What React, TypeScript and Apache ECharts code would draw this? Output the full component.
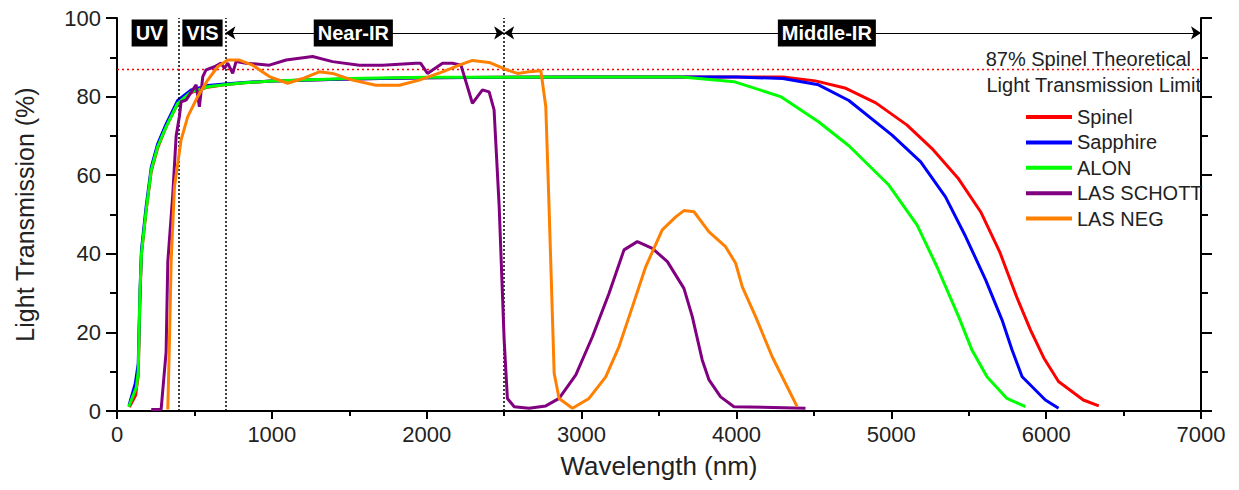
import React, { useEffect, useRef } from "react";
import * as echarts from "echarts";

const seriesNames = ["Spinel", "Sapphire", "ALON", "LAS SCHOTT", "LAS NEG"];
const seriesColors = ["#ff0000", "#0000ff", "#00ff00", "#800080", "#ff8000"];

const spinel = [
  [80, 1], [120, 4], [137, 9], [148, 28], [158, 40], [188, 51], [221, 61], [263, 67], [317, 72.3],
  [392, 78.2], [479, 81], [586, 82.4], [694, 83], [823, 83.5], [1000, 84], [1500, 84.5], [2000, 84.8],
  [3000, 85], [4000, 85], [4300, 85], [4510, 84], [4700, 82.2], [4900, 78.4], [5100, 72.8], [5270, 66.5],
  [5430, 59.3], [5580, 50.5], [5700, 40.5], [5810, 29], [5900, 20.5], [5985, 13.5], [6080, 7.5],
  [6240, 2.8], [6340, 1.3],
];
const sapphire = [
  [78, 1.5], [118, 7], [137, 12], [148, 30], [158, 41], [188, 52], [221, 62], [263, 68], [317, 73],
  [392, 79], [479, 81.7], [586, 82.8], [694, 83.2], [823, 83.6], [1000, 84], [1500, 84.5], [2000, 84.8],
  [3000, 85], [4000, 85], [4300, 84.6], [4530, 83], [4726, 79], [5005, 70.2], [5190, 63.4], [5350, 54.5],
  [5480, 44.4], [5610, 33.3], [5715, 23.2], [5780, 15.5], [5845, 8.7], [5995, 2.8], [6080, 0.7],
];
const alon = [
  [75, 1], [125, 6], [137, 10], [148, 30], [158, 40], [188, 51], [221, 61.3], [263, 67.3], [317, 72.3],
  [392, 78.3], [479, 81.2], [586, 82.5], [694, 83], [823, 83.5], [1000, 84], [1500, 84.6], [2000, 84.9],
  [3000, 85], [3650, 85], [3984, 83.8], [4285, 80], [4530, 73.6], [4726, 67.5], [4984, 57.5], [5167, 47.3],
  [5295, 36.7], [5435, 24], [5521, 15.5], [5618, 8.7], [5747, 3.2], [5866, 1.1],
];
const lasSchott = [
  [221, 0.4], [285, 0.4], [317, 15], [328, 38], [360, 55], [382, 70], [403, 75], [414, 78.7], [446, 79.1],
  [489, 81.7], [511, 83], [532, 77.4], [554, 85.1], [575, 86.8], [629, 87.6], [672, 88.5], [694, 87.2],
  [715, 88.5], [747, 85.9], [769, 88.9], [834, 88.5], [984, 88], [1092, 89.3], [1263, 90.2], [1392, 88.9],
  [1565, 88], [1715, 88], [1930, 88.5], [1960, 88.5], [2005, 85.9], [2102, 88.5], [2166, 88.5], [2221, 88],
  [2295, 78.3], [2360, 81.7], [2403, 81.2], [2435, 76.6], [2468, 52], [2500, 18.1], [2521, 3.2], [2565, 1.1],
  [2661, 0.7], [2769, 1.3], [2855, 3.2], [2963, 9.2], [3070, 18.9], [3177, 29.9], [3274, 41], [3360, 43.1],
  [3457, 41.4], [3554, 38], [3661, 31.2], [3715, 24], [3779, 13], [3823, 7.9], [3898, 3.6], [3984, 1.1],
  [4446, 0.7],
];
const lasNeg = [
  [328, 0.4], [340, 20], [350, 38.4], [371, 57], [414, 69], [457, 74.9], [521, 80], [586, 84.2], [650, 87.6],
  [715, 89.3], [790, 89.3], [876, 88], [984, 85.1], [1102, 83.4], [1199, 84.6], [1306, 86.3], [1392, 85.9],
  [1521, 84.2], [1672, 82.9], [1823, 82.9], [1952, 84.2], [2102, 86.3], [2210, 88], [2295, 89.2], [2403, 88.7],
  [2511, 86.9], [2586, 85.9], [2661, 86.3], [2737, 86.6], [2769, 77.4], [2790, 52], [2823, 9.6], [2855, 3.2],
  [2941, 0.7], [3048, 3.2], [3156, 8.7], [3242, 16.4], [3328, 26.5], [3414, 36.7], [3521, 46.1], [3608, 49.4],
  [3661, 51], [3726, 50.7], [3823, 45.6], [3930, 41.8], [3995, 37.6], [4038, 31.6], [4124, 24], [4231, 13.8],
  [4392, 1.1],
];
const seriesData = [spinel, sapphire, alon, lasSchott, lasNeg];

const regionNames = ["UV", "VIS", "Near-IR", "Middle-IR"];
const regionCenters = [210, 552, 1526, 4584];
const regionLevel = 96.2;
const boundaries = [400, 700, 2500];
const arrowSpans = [[700, 2500], [2500, 7000]];
const limitValue = 87;
const limitText = ["87% Spinel Theoretical", "Light Transmission Limit"];

const FONT = "'Liberation Sans', Arial, Helvetica, sans-serif";

export default function App() {
  const ref = useRef<HTMLDivElement>(null);
  useEffect(() => {
    document.body.style.margin = "0";
    const chart = echarts.init(ref.current!, null, { renderer: "svg" });
    const lineSeries = seriesNames.map((name, i) => ({
      name,
      type: "line",
      data: seriesData[i],
      showSymbol: false,
      symbol: "none",
      color: seriesColors[i],
      lineStyle: { width: 3, color: seriesColors[i] },
      z: 3 + i,
    }));
    const axisCommon = {
      axisLine: { show: true, onZero: false, lineStyle: { color: "#000", width: 2 } },
      splitLine: { show: false },
    };
    const option = {
      animation: false,
      backgroundColor: "#ffffff",
      textStyle: { fontFamily: FONT },
      grid: { left: 117, right: 38, top: 18, bottom: 79 },
      legend: {
        data: seriesNames,
        orient: "vertical",
        left: 1021,
        top: 102,
        itemWidth: 46,
        itemHeight: 4,
        itemGap: 5.4,
        icon: "rect",
        textStyle: { fontSize: 20, color: "#222", fontFamily: FONT },
      },
      xAxis: {
        type: "value",
        min: 0,
        max: 7000,
        interval: 1000,
        name: "Wavelength (nm)",
        nameLocation: "middle",
        nameGap: 42,
        nameTextStyle: { fontSize: 26, color: "#222", fontFamily: FONT },
        ...axisCommon,
        axisTick: { show: true, inside: false, length: 8, lineStyle: { color: "#000", width: 2 } },
        minorTick: { show: true, splitNumber: 2, length: 5, lineStyle: { color: "#000", width: 2 } },
        axisLabel: {
          fontSize: 22,
          color: "#222",
          margin: 12,
          fontFamily: FONT,
          formatter: (v: number) => String(v),
        },
      },
      yAxis: [
        {
          type: "value",
          min: 0,
          max: 100,
          interval: 20,
          name: "Light Transmission (%)",
          nameLocation: "middle",
          nameGap: 80,
          nameTextStyle: { fontSize: 25, color: "#222", fontFamily: FONT },
          ...axisCommon,
          axisTick: { show: true, inside: false, length: 11, lineStyle: { color: "#000", width: 2 } },
          minorTick: { show: true, splitNumber: 2, length: 7, lineStyle: { color: "#000", width: 2 } },
          axisLabel: {
            fontSize: 22,
            color: "#222",
            margin: 16,
            fontFamily: FONT,
            formatter: (v: number) => String(v),
          },
        },
        {
          type: "value",
          position: "right",
          min: 0,
          max: 100,
          interval: 20,
          ...axisCommon,
          axisTick: { show: true, inside: false, length: 11, lineStyle: { color: "#000", width: 2 } },
          minorTick: { show: true, splitNumber: 2, length: 7, lineStyle: { color: "#000", width: 2 } },
          axisLabel: { show: false },
        },
      ],
      series: [
        {
          name: "boundaries",
          type: "line",
          data: [],
          z: 1,
          color: "#000000",
          markLine: {
            silent: true,
            symbol: "none",
            label: { show: false },
            lineStyle: { color: "#000000", type: [2, 2], width: 1.5 },
            data: boundaries.map((b) => ({ xAxis: b })),
          },
        },
        {
          name: "limit",
          type: "line",
          data: [],
          z: 1,
          color: "#ff0000",
          markLine: {
            silent: true,
            symbol: "none",
            label: { show: false },
            lineStyle: { color: "#ff0000", type: [2, 3], width: 1.3, opacity: 1 },
            data: [{ yAxis: limitValue }],
          },
        },
        {
          name: "arrows",
          type: "line",
          data: [],
          z: 2,
          color: "#000000",
          markLine: {
            silent: true,
            symbol: ["arrow", "arrow"],
            symbolSize: 10,
            label: { show: false },
            lineStyle: { color: "#000000", type: "solid", width: 1.2 },
            data: arrowSpans.map(([a, b]) => [
              { coord: [a, regionLevel] },
              { coord: [b, regionLevel] },
            ]),
          },
        },
        ...lineSeries,
        {
          name: "regions",
          type: "scatter",
          symbolSize: 0,
          itemStyle: { color: "#000000", opacity: 1 },
          z: 20,
          data: regionNames.map((n, i) => ({
            value: [regionCenters[i], regionLevel],
            label: {
              show: true,
              position: "inside",
              formatter: n,
              color: "#ffffff",
              backgroundColor: "#000000",
              opacity: 1,
              fontWeight: "bold",
              fontSize: 20,
              fontFamily: FONT,
              padding: [4, 4, 3, 4],
            },
          })),
        },
      ],
      graphic: [
        {
          type: "text",
          x: 1191,
          y: 59,
          z: 30,
          style: {
            text: limitText[0],
            align: "right",
            verticalAlign: "middle",
            fontSize: 20,
            fontFamily: FONT,
            fill: "#222",
          },
        },
        {
          type: "text",
          x: 1201,
          y: 85,
          z: 30,
          style: {
            text: limitText[1],
            align: "right",
            verticalAlign: "middle",
            fontSize: 20,
            fontFamily: FONT,
            fill: "#222",
          },
        },
      ],
    };
    chart.setOption(option as any);
    return () => chart.dispose();
  }, []);
  return <div ref={ref} style={{ width: 1239, height: 490 }} />;
}
